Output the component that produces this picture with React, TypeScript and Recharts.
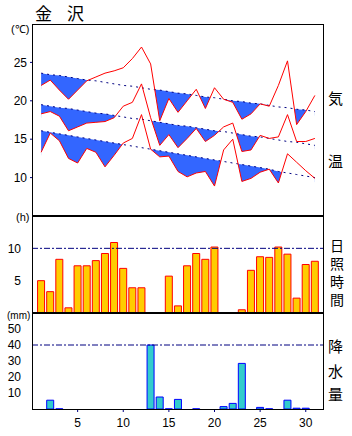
import React from "react";
import {
  ComposedChart,
  Line,
  Area,
  Bar,
  XAxis,
  YAxis,
  ReferenceLine,
} from "recharts";

// days of the month
const days = [
  1, 2, 3, 4, 5, 6, 7, 8, 9, 10, 11, 12, 13, 14, 15, 16,
  17, 18, 19, 20, 21, 22, 23, 24, 25, 26, 27, 28, 29, 30, 31,
];

// temperature (℃)
const maxTemp = [
  22.0, 22.7, 21.4, 20.2, 21.4, 22.6, 23.1, 23.6, 23.9, 24.3, 25.5, 27.0, 24.8, 17.4, 20.3, 18.5,
  20.0, 21.5, 19.0, 21.7, 20.2, 19.8, 17.6, 18.3, 19.6, 19.3, 22.0, 25.2, 16.9, 18.6, 20.7,
];
const maxNormal = [
  23.6, 23.4, 23.3, 23.1, 22.9, 22.7, 22.6, 22.4, 22.2, 22.0, 21.9, 21.7, 21.5, 21.4, 21.2, 21.0,
  20.9, 20.7, 20.5, 20.4, 20.2, 20.0, 19.9, 19.7, 19.6, 19.4, 19.2, 19.1, 18.9, 18.8, 18.6,
];
const meanTemp = [
  18.3, 18.6, 18.0, 16.1, 16.6, 17.1, 17.2, 17.3, 17.8, 19.3, 19.8, 22.2, 17.8, 14.2, 15.6, 13.9,
  15.1, 16.4, 14.7, 15.5, 16.6, 17.1, 13.4, 13.6, 15.5, 15.1, 15.3, 18.2, 14.7, 14.7, 15.1,
];
const meanNormal = [
  19.5, 19.3, 19.1, 19.0, 18.8, 18.6, 18.4, 18.3, 18.1, 17.9, 17.7, 17.6, 17.4, 17.2, 17.0, 16.8,
  16.7, 16.5, 16.3, 16.1, 16.0, 15.8, 15.6, 15.4, 15.3, 15.1, 14.9, 14.7, 14.6, 14.4, 14.2,
];
const minTemp = [
  13.3, 15.8, 14.8, 12.5, 11.9, 13.8, 13.3, 11.4, 12.9, 14.5, 15.1, 18.2, 13.7, 12.7, 12.8, 10.8,
  10.1, 10.6, 10.8, 8.9, 13.6, 15.0, 9.5, 9.9, 10.7, 11.1, 9.3, 13.1, 12.0, 10.9, 9.9,
];
const minNormal = [
  16.1, 15.9, 15.7, 15.5, 15.3, 15.1, 14.9, 14.7, 14.5, 14.3, 14.1, 13.9, 13.7, 13.5, 13.3, 13.1,
  12.9, 12.7, 12.5, 12.3, 12.1, 11.9, 11.7, 11.5, 11.3, 11.1, 10.8, 10.6, 10.4, 10.2, 10.0,
];

// sunshine (h)
const sunshine = [
  5.0, 3.3, 8.3, 0.8, 7.3, 7.3, 8.1, 9.2, 10.9, 6.9, 3.9, 3.9, 0, 0, 5.7, 1.1,
  7.3, 9.2, 8.3, 10.2, 0, 0, 0.5, 6.6, 8.7, 8.6, 10.2, 9.1, 2.3, 7.5, 8.0,
];

// precipitation (mm)
const precip = [
  0, 5.5, 0.1, 0, 0, 0, 0, 0, 0, 0, 0, 0, 40.0, 7.5, 0.1, 6.0,
  0, 0.1, 0, 0, 1.5, 3.5, 28.5, 0, 1.0, 0.1, 0, 5.5, 0.5, 0.5, 0,
];

const tempTicks = [10, 15, 20, 25];
const sunTicks = [5, 10];
const rainTicks = [10, 20, 30, 40, 50];
const dayTicks = [5, 10, 15, 20, 25, 30];

const NAVY = "#000080";
const RED = "#ff0000";
const BLUE_FILL = "#3366ff";

const tempData = days.map((day, i) => ({
  day,
  max: maxTemp[i],
  maxN: maxNormal[i],
  mean: meanTemp[i],
  meanN: meanNormal[i],
  min: minTemp[i],
  minN: minNormal[i],
}));
const sunData = days.map((day, i) => ({ day, sun: sunshine[i] }));
const rainData = days.map((day, i) => ({ day, rain: precip[i] }));

const tickStyle = { fontSize: 12, fill: "#000" };

function Label({ x, top, size, children, style }: { x: number; top: number; size: number; children: React.ReactNode; style?: React.CSSProperties }) {
  return (
    <div
      style={{
        position: "absolute",
        left: x,
        top,
        fontSize: size,
        lineHeight: 1,
        whiteSpace: "nowrap",
        ...style,
      }}
    >
      {children}
    </div>
  );
}

export default function App() {
  const jp = { fontFamily: "'Noto Sans CJK JP', sans-serif" };
  // blue band reaching from just under the actual value up to the normal,
  // then white under the actual value -> blue is left only where below normal
  const pairs = [
    ["maxN", "max"],
    ["meanN", "mean"],
    ["minN", "min"],
  ];

  return (
    <div
      style={{
        position: "absolute",
        left: 0,
        top: 0,
        width: 352,
        height: 436,
        background: "#fff",
        fontFamily: "'Liberation Sans', Arial, sans-serif",
        overflow: "hidden",
      }}
    >
      {/* temperature */}
      <div style={{ position: "absolute", left: 0, top: 0 }}>
        <ComposedChart width={352} height={216} data={tempData} margin={{ top: 24, right: 0, bottom: 0, left: 0 }}>
          <XAxis dataKey="day" type="number" domain={[0, 32]} hide />
          <YAxis
            yAxisId="l"
            domain={[5, 30]}
            ticks={tempTicks}
            interval={0}
            width={32}
            axisLine={false}
            tickLine={{ stroke: NAVY }}
            tickSize={2}
            tickMargin={3}
            tick={tickStyle}
          />
          <YAxis
            yAxisId="r"
            orientation="right"
            domain={[5, 30]}
            ticks={tempTicks}
            interval={0}
            width={28}
            axisLine={false}
            tickLine={{ stroke: NAVY }}
            tickSize={3}
            tick={false}
          />
          {pairs.flatMap(([n, a]) => [
            <Area
              key={n + "-fill"}
              yAxisId="l"
              type="linear"
              dataKey={(d: any) => [Math.min(d[a], d[n]) - 0.5, d[n]]}
              stroke="none"
              fill={BLUE_FILL}
              fillOpacity={1}
              dot={false}
              activeDot={false}
              isAnimationActive={false}
            />,
            <Area
              key={a + "-mask"}
              yAxisId="l"
              type="linear"
              dataKey={a}
              baseValue={5}
              stroke="none"
              fill="#ffffff"
              fillOpacity={1}
              dot={false}
              activeDot={false}
              isAnimationActive={false}
            />,
          ])}
          {pairs.map(([n]) => (
            <Line
              key={n}
              yAxisId="l"
              type="linear"
              dataKey={n}
              stroke={NAVY}
              strokeWidth={1}
              strokeDasharray="2 4"
              dot={false}
              activeDot={false}
              isAnimationActive={false}
            />
          ))}
          {pairs.map(([, a]) => (
            <Line
              key={a}
              yAxisId="l"
              type="linear"
              dataKey={a}
              stroke={RED}
              strokeWidth={1}
              dot={false}
              activeDot={false}
              isAnimationActive={false}
            />
          ))}
        </ComposedChart>
      </div>

      {/* sunshine */}
      <div style={{ position: "absolute", left: 0, top: 216 }}>
        <ComposedChart width={352} height={97} data={sunData} margin={{ top: 0, right: 0, bottom: 0, left: 0 }}>
          <XAxis dataKey="day" type="number" domain={[0, 32]} hide />
          <YAxis
            yAxisId="l"
            domain={[0, 15]}
            ticks={sunTicks}
            interval={0}
            width={32}
            axisLine={false}
            tickLine={false}
            tickMargin={5}
            tick={tickStyle}
          />
          <YAxis yAxisId="r" orientation="right" domain={[0, 15]} width={28} axisLine={false} tickLine={false} tick={false} />
          <ReferenceLine yAxisId="l" y={10} stroke={NAVY} strokeDasharray="6 2 2 2" />
          <Bar
            yAxisId="l"
            dataKey="sun"
            fill="#ffcc00"
            stroke={RED}
            strokeWidth={1}
            barSize={7}
            isAnimationActive={false}
          />
        </ComposedChart>
      </div>

      {/* precipitation */}
      <div style={{ position: "absolute", left: 0, top: 313 }}>
        <ComposedChart width={352} height={123} data={rainData} margin={{ top: 0, right: 0, bottom: 0, left: 0 }}>
          <XAxis
            dataKey="day"
            type="number"
            domain={[0, 32]}
            ticks={dayTicks}
            interval={0}
            height={27}
            axisLine={false}
            tickLine={{ stroke: NAVY }}
            tickSize={3}
            tickMargin={6}
            tick={tickStyle}
          />
          <YAxis
            yAxisId="l"
            domain={[0, 60]}
            ticks={rainTicks}
            interval={0}
            width={32}
            axisLine={false}
            tickLine={false}
            tickMargin={5}
            tick={tickStyle}
          />
          <YAxis yAxisId="r" orientation="right" domain={[0, 60]} width={28} axisLine={false} tickLine={false} tick={false} />
          <ReferenceLine yAxisId="l" y={40} stroke={NAVY} strokeDasharray="6 2 2 2" />
          <Bar
            yAxisId="l"
            dataKey="rain"
            fill="#33cccc"
            stroke="#0000ff"
            strokeWidth={1}
            barSize={7}
            isAnimationActive={false}
          />
        </ComposedChart>
      </div>

      {/* frame and panel dividers */}
      <div
        style={{
          position: "absolute",
          left: 32,
          top: 24,
          width: 292,
          height: 386,
          border: "1px solid #000",
          boxSizing: "border-box",
        }}
      />
      <div style={{ position: "absolute", left: 32, top: 215, width: 292, height: 2, background: "#000" }} />
      <div style={{ position: "absolute", left: 32, top: 312, width: 292, height: 2, background: "#000" }} />

      {/* title */}
      <div style={jp}>
        <Label x={35} top={4} size={17}>金</Label>
        <Label x={67} top={4} size={17}>沢</Label>
      </div>

      {/* unit labels */}
      <Label x={11} top={24} size={11}>(℃)</Label>
      <Label x={16} top={212} size={11}>(h)</Label>
      <Label x={7} top={311} size={10}>(mm)</Label>

      {/* side labels */}
      <div style={jp}>
        <Label x={328} top={90} size={15}>気</Label>
        <Label x={328} top={153} size={15}>温</Label>
        <Label x={330} top={239} size={14} style={{ writingMode: "vertical-rl", letterSpacing: 4 }}>
          日照時間
        </Label>
        <Label x={328} top={338} size={15}>降</Label>
        <Label x={328} top={363} size={15}>水</Label>
        <Label x={328} top={386} size={15}>量</Label>
      </div>
    </div>
  );
}
